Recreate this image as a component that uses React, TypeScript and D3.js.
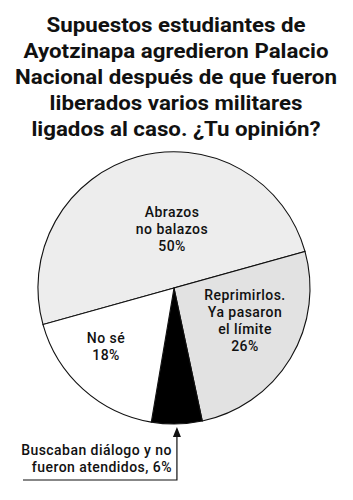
import React, { useEffect, useRef } from "react";
import * as d3 from "d3";

// poll answers, in drawing order (clockwise from the left diameter)
const answers = ["Abrazos no balazos", "Reprimirlos. Ya pasaron el límite", "Buscaban diálogo y no fueron atendidos", "No sé"];
const shares = [50, 26, 6, 18];
const fills = ["#ededed", "#e2e2e2", "#000000", "#ffffff"];

const titleLines = [
  "Supuestos estudiantes de",
  "Ayotzinapa agredieron Palacio",
  "Nacional después de que fueron",
  "liberados varios militares",
  "ligados al caso. ¿Tu opinión?",
];

// text inside the slices (null = labelled outside with an arrow)
const sliceLabels: (string[] | null)[] = [
  ["Abrazos", "no balazos", "50%"],
  ["Reprimirlos.", "Ya pasaron", "el límite", "26%"],
  null,
  ["No sé", "18%"],
];
const calloutLines = ["Buscaban diálogo y no", "fueron atendidos, 6%"];

export default function App() {
  const ref = useRef<SVGSVGElement>(null);

  useEffect(() => {
    const svg = d3.select(ref.current);
    svg.selectAll("*").remove();

    const width = 353, height = 500;
    const cx = 174, cy = 288, r = 136;
    const font = "Roboto, 'DejaVu Sans', sans-serif";

    svg.attr("width", width).attr("height", height);
    svg.append("rect").attr("width", width).attr("height", height).attr("fill", "#fff");

    // title - the original face is a wide DIN-like grotesk, so stretch Roboto a bit
    const titleX = 176;
    const title = svg.append("g");
    title.selectAll("text")
      .data(titleLines)
      .enter()
      .append("text")
      .attr("x", 0)
      .attr("y", (d, i) => 32 + i * 26)
      .attr("text-anchor", "middle")
      .attr("font-family", font)
      .attr("font-weight", 700)
      .attr("font-size", 20)
      .attr("fill", "#111")
      .text(d => d);
    let maxW = 0;
    title.selectAll<SVGTextElement, string>("text").each(function () {
      maxW = Math.max(maxW, this.getComputedTextLength());
    });
    const sx = maxW > 0 ? 322 / maxW : 1;
    title.attr("transform", `translate(${titleX},0) scale(${sx},1)`);

    const data = answers.map((a, i) => ({ name: a, value: shares[i], fill: fills[i], label: sliceLabels[i] }));

    // start on the lower-left so the 50% slice sits on top
    const start = (254.4 * Math.PI) / 180;
    const pie = d3.pie<any>()
      .value(d => d.value)
      .sort(null)
      .startAngle(start)
      .endAngle(start + 2 * Math.PI);
    const arc = d3.arc<any>().innerRadius(0).outerRadius(r);
    const arcs = pie(data);

    const g = svg.append("g").attr("transform", `translate(${cx},${cy})`);
    g.selectAll("path")
      .data(arcs)
      .enter()
      .append("path")
      .attr("d", arc)
      .attr("fill", d => d.data.fill)
      .attr("stroke", "#111")
      .attr("stroke-width", 1.1);

    // label centres relative to pie centre
    const labelPos: [number, number][] = [[-2, -71], [71, 12], [0, 0], [-68, 55]];
    arcs.forEach((a, i) => {
      const lines = a.data.label;
      if (!lines) return;
      const [lx, ly] = labelPos[i];
      g.append("g")
        .selectAll("text")
        .data(lines)
        .enter()
        .append("text")
        .attr("x", lx)
        .attr("y", (d, j) => ly + j * 17)
        .attr("text-anchor", "middle")
        .attr("font-family", font)
        .attr("font-weight", 500)
        .attr("font-size", 14)
        .attr("letter-spacing", 0.45)
        .attr("fill", "#111")
        .text(d => d);
    });

    // callout for the small black slice
    const black = arcs[2];
    const tip = arc.centroid({ ...black, innerRadius: r, outerRadius: r } as any);
    const ax = cx + tip[0] + 1.5, ay = cy + Math.cos((black.startAngle + black.endAngle) / 2) * -r + 3;
    const lineY = 480;
    svg.append("path")
      .attr("d", `M23,${lineY}H${ax}V${ay + 9}`)
      .attr("fill", "none")
      .attr("stroke", "#111")
      .attr("stroke-width", 1.2);
    svg.append("path")
      .attr("d", `M${ax},${ay}L${ax - 4},${ay + 10}L${ax + 4},${ay + 10}Z`)
      .attr("fill", "#111");
    svg.append("g")
      .selectAll("text")
      .data(calloutLines)
      .enter()
      .append("text")
      .attr("x", ax - 5)
      .attr("y", (d, i) => 455 + i * 17)
      .attr("text-anchor", "end")
      .attr("font-family", font)
      .attr("font-weight", 500)
      .attr("font-size", 14)
      .attr("letter-spacing", 0.45)
      .attr("fill", "#111")
      .text(d => d);
  }, []);

  return <svg ref={ref} style={{ position: "absolute", left: 0, top: 0 }} />;
}
